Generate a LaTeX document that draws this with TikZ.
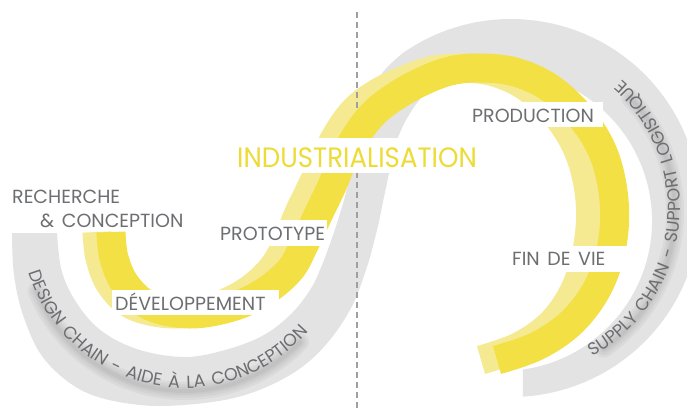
\documentclass[tikz,border=0pt]{standalone}
\usepackage{fontspec}
\usetikzlibrary{decorations.text}
\newfontfamily\labfont[WordSpace=1.5]{Poppins}
\newfontfamily\bigfont[FakeStretch=0.93]{Poppins}
\definecolor{bandgray}{HTML}{E3E3E3}
\definecolor{ydark}{HTML}{F2E045}
\definecolor{ylight}{HTML}{F5EA92}
\definecolor{labgray}{HTML}{6D6E71}
\definecolor{indyellow}{HTML}{EDDB36}
\definecolor{sepgray}{HTML}{A0A0A0}
\begin{document}
\begin{tikzpicture}[x=1pt,y=1pt,
  lab/.style={font=\labfont\fontsize{19}{22}\selectfont, text=labgray, inner sep=0pt, anchor=base west},
  bigl/.style={font=\bigfont\fontsize{28}{32}\selectfont, text=indyellow, inner sep=0pt, anchor=base west},
  labbox/.style={fill=white},
  yband/.style={line width=29pt},
  shadowband/.style={black, opacity=0.035, line cap=round},
  sepline/.style={draw=sepgray, line width=1.2pt, dash pattern=on 6pt off 4pt}]
\useasboundingbox (0,0) rectangle (687,-416);

% gray S band
\fill[bandgray] (12,-233) -- (57,-233)
 -- plot[smooth, tension=0.6] coordinates {(57,-233) (62,-272) (78,-305) (103,-332) (140,-350) (185,-357) (225,-350) (262,-336) (290,-315) (310,-290) (322,-265) (333,-235) (344,-200) (351,-170) (357,-135) (367,-100) (383,-72) (402.6,-53.2)}
 arc[start angle=125, end angle=-86.4, radius=189pt]
 -- (522.9,-369.5)
 arc[start angle=-82, end angle=120, radius=150pt]
 -- plot[smooth, tension=0.6] coordinates {(427,-91.1) (412,-110) (399,-135) (391,-165) (384,-197) (377,-230) (366,-270) (350,-310) (323,-348) (290,-375) (245,-395) (195,-404) (140,-405) (85,-392) (45,-360) (24,-318) (14,-275) (12,-233)}
 -- cycle;

% soft shadows under the curved texts
\foreach \w in {18,13,8,4}{
  \draw[shadowband, line width=\w pt] (185,-231) ++(-158:160pt) arc[start angle=-158, end angle=-44, radius=160pt];
  \draw[shadowband, line width=\w pt] (508,-212) ++(-55:167pt) arc[start angle=-55, end angle=43, radius=167pt];
}

% light yellow band
\draw[ylight, yband] plot[smooth, tension=0.6] coordinates {(97,-232) (100,-258) (111,-285) (134,-306) (174,-314) (214,-307) (246,-292) (271,-270) (286,-245) (298,-215) (311,-188) (324,-160) (338,-133) (355,-110) (376,-94) (400,-82) (430,-71) (460,-68) (494,-72) (528,-88) (559,-118) (580,-155) (590,-200) (588,-245) (576,-287) (553,-322) (520,-346) (481,-360)};

% separator
\coordinate (septop) at (357,-12);
\coordinate (sepbot) at (357,-410);
\draw[sepline] (septop) -- (sepbot);

% dark yellow band
\draw[ydark, yband] plot[smooth, tension=0.6] coordinates {(111,-232) (114,-258) (126,-285) (150,-306) (190,-314) (232,-307) (264,-292) (290,-270) (304,-245) (318,-215) (331,-188) (343,-160) (358,-133) (375,-112) (396,-96) (421,-82) (450,-71) (480,-68) (515,-72) (550,-88) (582,-118) (604,-155) (614,-200) (612,-245) (598,-287) (572,-322) (537,-346) (497,-360)};

% label boxes
\fill[labbox] (217,-220) rectangle (327,-246);
\fill[labbox] (112,-290) rectangle (279,-315);
\fill[labbox] (228,-138) rectangle (480,-173);
\fill[labbox] (468,-102) rectangle (603,-127);
\fill[labbox] (505,-246) rectangle (630,-272);

% labels
\node[lab] (rech) at (12,-203) {RECHERCHE};
\node[lab] (conc) at (40,-227) {\& CONCEPTION};
\node[lab] (proto) at (220,-240) {PROTOTYPE};
\node[lab] (dev) at (115,-310) {DÉVELOPPEMENT};
\node[bigl] (indus) at (237,-167) {INDUSTRIALISATION};
\node[lab] (prod) at (472,-122) {PRODUCTION};
\node[lab] (fin) at (512,-265) {FIN DE VIE};

% curved texts
\path[decorate, decoration={text along path, text align=center,
  text={|\labfont\fontsize{17.5}{20}\selectfont\color{labgray}|DESIGN CHAIN - AIDE À LA CONCEPTION}}]
  (185,-225) ++(-172:163pt) arc[start angle=-172, end angle=-32, radius=163pt];
\path[decorate, decoration={text along path, text align=center,
  text={|\labfont\fontsize{17.5}{20}\selectfont\color{labgray}|SUPPLY CHAIN - SUPPORT LOGISTIQUE}}]
  (511,-208) ++(-70:169pt) arc[start angle=-70, end angle=58, radius=169pt];
\end{tikzpicture}
\end{document}
